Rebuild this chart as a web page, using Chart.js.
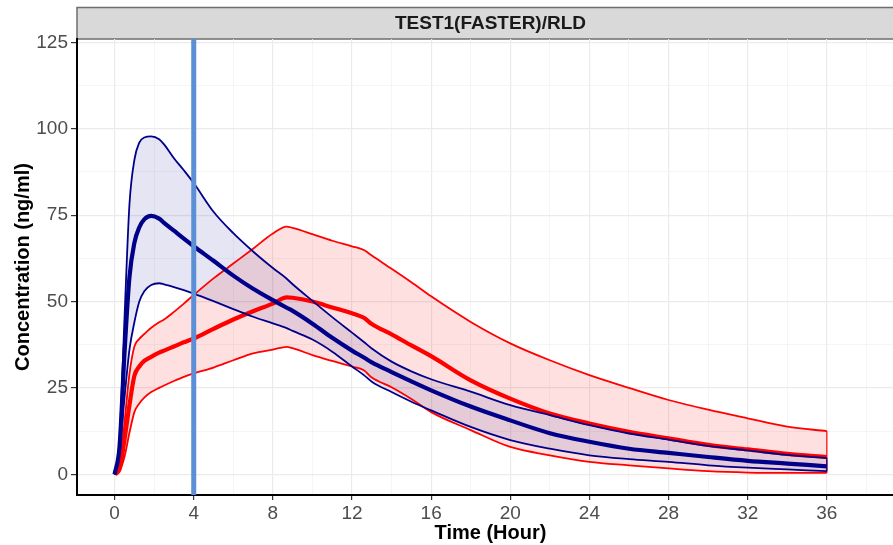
<!DOCTYPE html>
<html>
<head>
<meta charset="utf-8">
<script src="https://cdn.jsdelivr.net/npm/chart.js@4.4.1/dist/chart.umd.min.js"></script>
<style>
  html, body { margin: 0; padding: 0; background: #fff; overflow: hidden; }
  #wrap { position: relative; width: 910px; height: 545px; }
</style>
</head>
<body>
<div id="wrap"><canvas id="pkChart"></canvas></div>
<script>
// sampling times (hours)
const timeHours = [0, 0.25, 0.5, 0.75, 1, 1.25, 1.5, 1.85, 2.25, 2.5, 3, 3.5, 4, 5, 6, 7, 8, 8.7, 9, 10, 11, 12, 12.6, 13, 14, 15, 16, 18, 20, 22, 24, 26, 28, 30, 32, 34, 36];

// TEST1 (faster) - mean and band
const testUpper = [0, 10, 45, 78, 91, 96, 97.5, 97.8, 97, 95.5, 91.5, 88, 84.3, 76, 69.8, 64.5, 59.7, 56.6, 55, 50.2, 45.5, 41, 38.3, 36.4, 32.6, 29.8, 27.5, 23.9, 20, 17.1, 14.2, 11.8, 10, 8.2, 6.9, 5.6, 4.7];
const testMean  = [0, 8, 35, 57, 67, 71.5, 73.8, 74.8, 74, 72.8, 70.5, 68.2, 66, 61.8, 57.5, 53.7, 50.4, 48.2, 47.3, 43.6, 39.5, 35.8, 33.8, 32.4, 29.6, 26.9, 24.3, 19.6, 15.6, 11.9, 9.4, 7.4, 6.2, 5, 3.9, 3.1, 2.3];
const testLower = [0, 6, 22, 36, 44, 50, 53, 54.8, 55.3, 55, 54.2, 53.3, 52.3, 50.1, 47.8, 45.6, 43.7, 42.3, 41.5, 39, 35.5, 31.2, 28.7, 26.8, 23.8, 21, 18.5, 13.7, 9.9, 7.4, 5.5, 4.4, 3.6, 2.6, 1.9, 1.4, 0.9];

// RLD - mean and band
const rldUpper = [0, 2, 15, 29, 37, 39.2, 40.6, 42.4, 44, 44.8, 47, 49.4, 51.9, 56.7, 61, 65.3, 69.7, 71.7, 71.3, 69.5, 67.6, 66, 64.9, 63.3, 59.5, 55.6, 51.5, 44.1, 37.9, 33, 28.7, 25, 21.5, 18.7, 16.2, 13.8, 12.5];
const rldMean  = [0, 1.5, 10, 20, 28.5, 31.2, 32.8, 34, 35.2, 35.8, 37, 38.2, 39.3, 42.1, 44.8, 47.2, 49.4, 51.2, 51.1, 50, 48.3, 46.6, 45.3, 43.5, 40.5, 37.3, 34.2, 27.2, 21.9, 17.6, 14.7, 12.3, 10.4, 8.5, 7.2, 5.9, 5];
const rldLower = [0, 1, 5, 12, 18, 20.5, 22.2, 23.8, 25, 25.7, 27, 28.2, 29.2, 30.9, 33, 35, 36.1, 36.9, 36.5, 34.5, 32.8, 31.2, 30.1, 28, 25.2, 21.8, 18, 12.8, 7.9, 5.5, 3.6, 2.6, 1.7, 0.9, 0.5, 0.4, 0.4];

const refTime = 4;
const panelTitle = 'TEST1(FASTER)/RLD';

// grid positions (labels only on the major ones)
const xTicks = [0, 2, 4, 6, 8, 10, 12, 14, 16, 18, 20, 22, 24, 26, 28, 30, 32, 34, 36, 38];
const yTicks = [0, 12.5, 25, 37.5, 50, 62.5, 75, 87.5, 100, 112.5, 125];

const navy = '#00008B';
const red = '#FF0000';

const pts = ys => timeHours.map((t, i) => ({ x: t, y: ys[i] }));
const last = timeHours.length - 1;
// closing edge of a ribbon at the last time point
const edge = (up, lo) => [{ x: timeHours[last], y: up[last] }, { x: timeHours[last], y: lo[last] }];

const lineBase = {
  pointRadius: 0,
  cubicInterpolationMode: 'monotone',
  fill: false
};

// strip on top + vertical reference line
const panelDecor = {
  id: 'panelDecor',
  beforeDraw(chart) {
    const c = chart.ctx, a = chart.chartArea;
    c.save();
    c.fillStyle = '#d9d9d9';
    c.fillRect(a.left, 7.5, a.right - a.left, a.top - 7.5);
    c.strokeStyle = '#6e6e6e';
    c.lineWidth = 1.5;
    c.strokeRect(a.left, 7.5, a.right - a.left, a.top - 7.5);
    c.fillStyle = '#1a1a1a';
    c.font = 'bold 19px "Liberation Sans", Arial, sans-serif';
    c.textAlign = 'center';
    c.textBaseline = 'middle';
    c.fillText(panelTitle, (a.left + a.right) / 2, (7.5 + a.top) / 2 + 1);
    c.restore();
  },
  afterDatasetsDraw(chart) {
    const c = chart.ctx, a = chart.chartArea;
    const px = chart.scales.x.getPixelForValue(refTime);
    c.save();
    c.strokeStyle = '#5B8FD6';
    c.lineWidth = 5;
    c.beginPath();
    c.moveTo(px, a.top);
    c.lineTo(px, a.bottom);
    c.stroke();
    c.restore();
  }
};

const pkChart = document.getElementById('pkChart');
new Chart(pkChart, {
  type: 'line',
  data: {
    datasets: [
      { ...lineBase, label: 'TEST1 upper', data: pts(testUpper), borderColor: navy, borderWidth: 1.8,
        fill: '+2', backgroundColor: 'rgba(0,0,139,0.1)' },
      { ...lineBase, label: 'TEST1', data: pts(testMean), borderColor: navy, borderWidth: 4.2 },
      { ...lineBase, label: 'TEST1 lower', data: pts(testLower), borderColor: navy, borderWidth: 1.8 },
      { ...lineBase, label: 'RLD upper', data: pts(rldUpper), borderColor: red, borderWidth: 1.8,
        fill: '+2', backgroundColor: 'rgba(255,0,0,0.12)' },
      { ...lineBase, label: 'RLD', data: pts(rldMean), borderColor: red, borderWidth: 4.2 },
      { ...lineBase, label: 'RLD lower', data: pts(rldLower), borderColor: red, borderWidth: 1.8 },
      { ...lineBase, label: 'TEST1 edge', data: edge(testUpper, testLower), borderColor: navy, borderWidth: 1.2 },
      { ...lineBase, label: 'RLD edge', data: edge(rldUpper, rldLower), borderColor: red, borderWidth: 1.2 }
    ]
  },
  options: {
    responsive: true,
    maintainAspectRatio: false,
    animation: false,
    layout: { padding: { left: 0, top: 39, right: 6, bottom: 0 } },
    plugins: {
      legend: false,
      tooltip: { enabled: false },
      filler: { drawTime: 'beforeDatasetsDraw' }
    },
    scales: {
      x: {
        type: 'linear',
        min: -1.9,
        max: 39.9,
        afterBuildTicks(scale) { scale.ticks = xTicks.map(v => ({ value: v })); },
        afterFit(scale) { scale.height = 50; },
        border: { display: true, color: '#000', width: 2 },
        grid: {
          color: ctx => (ctx.tick && ctx.tick.value % 4 === 0) ? '#ebebeb' : '#f3f3f3',
          lineWidth: ctx => (ctx.tick && ctx.tick.value % 4 === 0) ? 1.2 : 0.8,
          tickColor: ctx => (ctx.tick && ctx.tick.value % 4 === 0) ? '#333' : 'rgba(0,0,0,0)',
          tickLength: 5,
          tickWidth: 1.2
        },
        ticks: {
          autoSkip: false,
          maxRotation: 0,
          padding: 2,
          color: '#4d4d4d',
          font: { size: 19, family: '"Liberation Sans", Arial, sans-serif' },
          callback: v => (v % 4 === 0 ? String(v) : '')
        },
        title: {
          display: true,
          text: 'Time (Hour)',
          color: '#000',
          padding: { top: 0, bottom: 0 },
          font: { size: 20, weight: 'bold', family: '"Liberation Sans", Arial, sans-serif' }
        }
      },
      y: {
        type: 'linear',
        min: -6,
        max: 126,
        afterBuildTicks(scale) { scale.ticks = yTicks.map(v => ({ value: v })); },
        afterFit(scale) { scale.width = 77; },
        border: { display: true, color: '#000', width: 2 },
        grid: {
          color: ctx => (ctx.tick && ctx.tick.value % 25 === 0) ? '#ebebeb' : '#f3f3f3',
          lineWidth: ctx => (ctx.tick && ctx.tick.value % 25 === 0) ? 1.2 : 0.8,
          tickColor: ctx => (ctx.tick && ctx.tick.value % 25 === 0) ? '#333' : 'rgba(0,0,0,0)',
          tickLength: 6,
          tickWidth: 1.2
        },
        ticks: {
          autoSkip: false,
          padding: 3,
          color: '#4d4d4d',
          font: { size: 19, family: '"Liberation Sans", Arial, sans-serif' },
          callback: v => (v % 25 === 0 ? String(v) : '')
        },
        title: {
          display: true,
          text: 'Concentration (ng/ml)',
          color: '#000',
          padding: { top: 11, bottom: 0 },
          font: { size: 20, weight: 'bold', family: '"Liberation Sans", Arial, sans-serif' }
        }
      }
    }
  },
  plugins: [panelDecor]
});
</script>
</body>
</html>
